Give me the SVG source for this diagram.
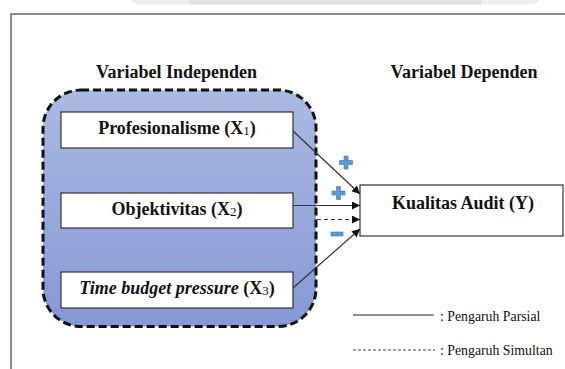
<svg xmlns="http://www.w3.org/2000/svg" width="565" height="369" viewBox="0 0 565 369">
<defs>
<linearGradient id="grad" x1="0" y1="0" x2="0" y2="1">
<stop offset="0" stop-color="#abbae2"/>
<stop offset="1" stop-color="#8598d5"/>
</linearGradient>
<marker id="arr" viewBox="0 0 10 10" refX="10" refY="5" markerWidth="9" markerHeight="8" markerUnits="userSpaceOnUse" orient="auto">
<path d="M0,0 L10,5 L0,10 z" fill="#111"/>
</marker>
<style>
.t{font-family:"Liberation Serif","Times New Roman",serif;fill:#111}
.b{font-weight:bold;font-size:18px}
.sub{font-weight:normal;font-size:13px}
.box{fill:#fff;stroke:#333;stroke-width:1.2}
.con{stroke:#333;stroke-width:1.2;fill:none}
.dash{stroke-dasharray:4 3}
.leg{font-size:13.8px}
.sign{fill:#5b9bd5;stroke:#41719c;stroke-width:0.6}
</style>
</defs>
<rect width="565" height="369" fill="#fff"/>
<g id="top-bar">
<rect x="130" y="-12" width="410" height="16.5" rx="8" fill="#eeeeee"/>
<rect x="189" y="-12" width="292" height="16.5" fill="#e0e0e0"/>
</g>
<g id="frame">
<path d="M11,369 L11,14 L565,14" fill="none" stroke="#666" stroke-width="1.5"/>
</g>
<g id="titles">
<text class="t b" x="176.5" y="78" text-anchor="middle">Variabel Independen</text>
<text class="t b" x="464" y="78" text-anchor="middle">Variabel Dependen</text>
</g>
<g id="independent-group">
<rect x="43" y="90" width="273" height="236.5" rx="38" fill="url(#grad)" stroke="#111" stroke-width="3" stroke-dasharray="8 4"/>
</g>
<g id="x1">
<rect class="box" x="61" y="112" width="232" height="36"/>
<text class="t b" x="177" y="133.5" text-anchor="middle">Profesionalisme (X<tspan class="sub" dy="1">1</tspan><tspan dy="-1">)</tspan></text>
</g>
<g id="x2">
<rect class="box" x="61" y="193" width="232" height="35"/>
<text class="t b" x="177" y="215" text-anchor="middle">Objektivitas (X<tspan class="sub" dy="1">2</tspan><tspan dy="-1">)</tspan></text>
</g>
<g id="x3">
<rect class="box" x="61" y="272" width="232" height="36"/>
<text class="t b" x="177" y="293.5" text-anchor="middle"><tspan font-style="italic">Time budget pressure</tspan> (X<tspan class="sub" dy="1">3</tspan><tspan dy="-1">)</tspan></text>
</g>
<g id="y">
<rect class="box" x="360" y="185" width="203" height="51"/>
<text class="t b" x="463" y="208.5" text-anchor="middle">Kualitas Audit (Y)</text>
</g>
<g id="connectors">
<line class="con" x1="293" y1="131" x2="360" y2="194" marker-end="url(#arr)"/>
<line class="con" x1="293" y1="205.5" x2="360" y2="205.5" marker-end="url(#arr)"/>
<line class="con dash" x1="317" y1="219.5" x2="360" y2="219.5" marker-end="url(#arr)"/>
<line class="con" x1="293" y1="288" x2="360" y2="229" marker-end="url(#arr)"/>
</g>
<g id="signs">
<path class="sign" d="M344,156 h4 v4.5 h4.5 v4 h-4.5 v4.5 h-4 v-4.5 h-4.5 v-4 h4.5 z"/>
<path class="sign" d="M336.5,186.5 h4 v4.5 h4.5 v4 h-4.5 v4.5 h-4 v-4.5 h-4.5 v-4 h4.5 z"/>
<rect class="sign" x="331" y="232" width="12" height="4"/>
</g>
<g id="legend">
<line x1="353" y1="315" x2="434" y2="315" stroke="#222" stroke-width="1"/>
<text class="t leg" x="440" y="320.5">: Pengaruh Parsial</text>
<line x1="353" y1="350" x2="435" y2="350" stroke="#444" stroke-width="1" stroke-dasharray="3 2"/>
<text class="t leg" x="440" y="355">: Pengaruh Simultan</text>
</g>
</svg>
